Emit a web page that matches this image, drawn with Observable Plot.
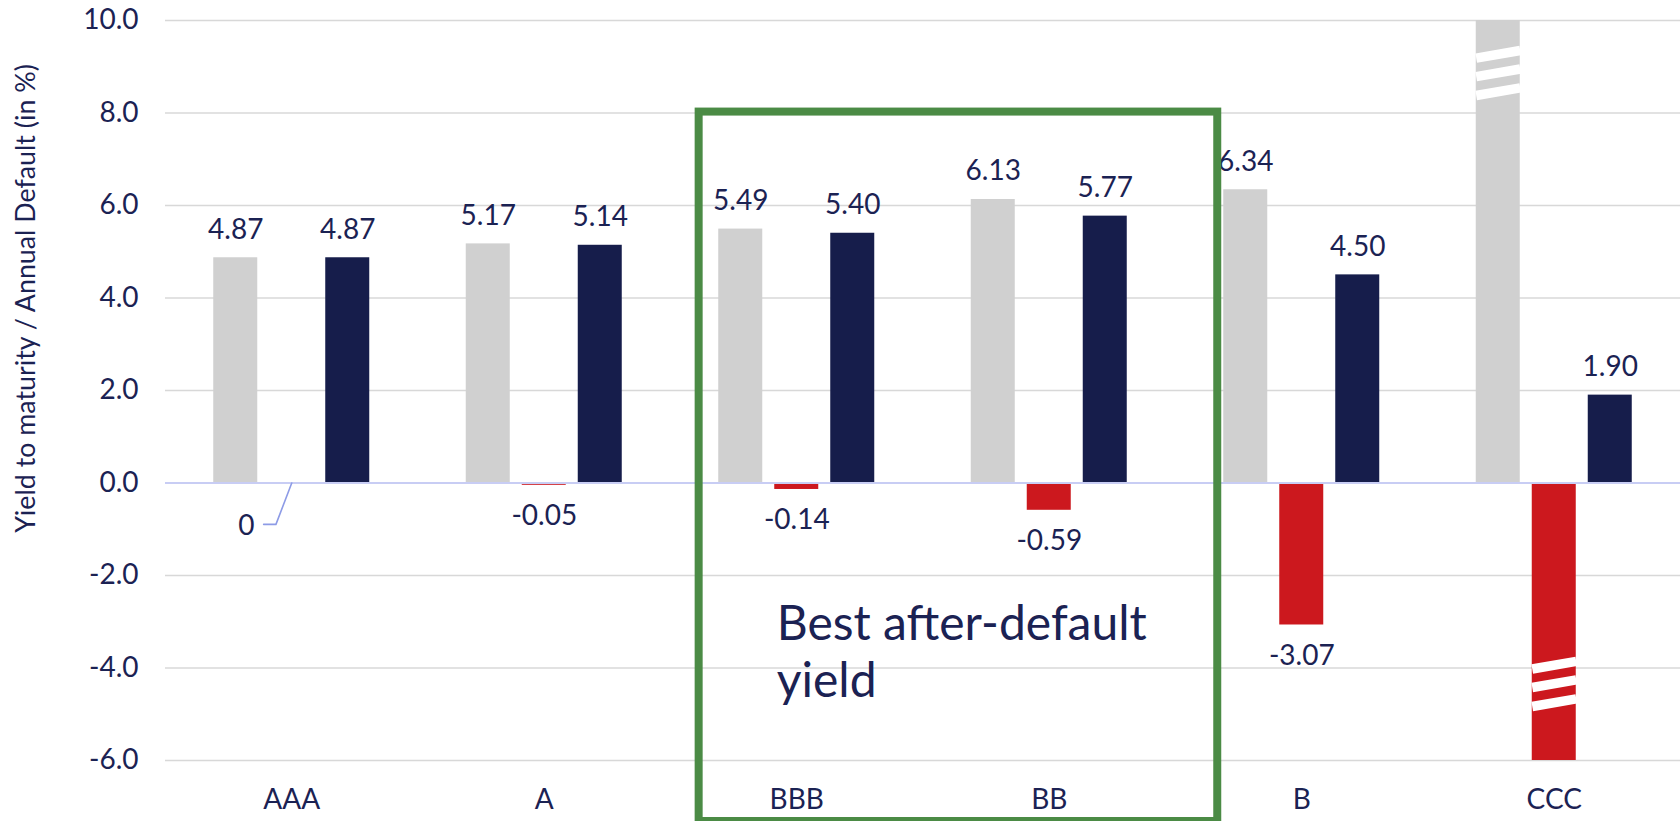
<!DOCTYPE html>
<html><head><meta charset="utf-8">
<script src="https://cdn.jsdelivr.net/npm/d3@7"></script>
<script src="https://cdn.jsdelivr.net/npm/@observablehq/plot@0.6"></script>
<style>
html,body{margin:0;padding:0;background:#fff;}
#chart svg{display:block;}
</style></head><body><div id="chart"></div>
<script>
// ---- data ----
const categories = ["AAA", "A", "BBB", "BB", "B", "CCC"];
const yieldToMaturity = [4.87, 5.17, 5.49, 6.13, 6.34, 10.0];   // CCC bar truncated at the axis top
const annualDefault = [0, -0.05, -0.14, -0.59, -3.07, -6.0];     // CCC bar truncated at the axis bottom
const afterDefaultYield = [4.87, 5.14, 5.40, 5.77, 4.50, 1.90];
const truncatedYtm = [false, false, false, false, false, true];
const truncatedDefault = [false, false, false, false, false, true];
const truncatedAdj = [false, false, false, false, false, false];
const yTicks = [-6, -4, -2, 0, 2, 4, 6, 8, 10];
const highlightCats = ["BBB", "BB"];
const highlightText = "Best after-default\nyield";
const yAxisLabel = "Yield to maturity / Annual Default (in %)";
const breakGray = [9.27, 8.87, 8.46];
const breakRed = [-3.94, -4.34, -4.75];

// ---- layout ----
const W = 1680, H = 821, ML = 165, MR = 0, MT = 20, MB = 61;
const unitPx = (W - ML - MR) / categories.length;
const px = p => p / unitPx;                 // pixels -> x data units
const yUnitPx = (H - MT - MB) / (yTicks[yTicks.length - 1] - yTicks[0]);
const pyv = p => p / yUnitPx;               // pixels -> y data units
const barW = px(44), step = px(56);
const textColor = "#1b2253";
const colors = {ytm: "#d0d0d0", def: "#cc181e", adj: "#161d4b"};

const series = [
  {key: "ytm", values: yieldToMaturity, trunc: truncatedYtm, k: -1},
  {key: "def", values: annualDefault, trunc: truncatedDefault, k: 0},
  {key: "adj", values: afterDefaultYield, trunc: truncatedAdj, k: 1}
];
const rows = s => categories.map((c, i) => ({
  cat: c, i, value: s.values[i], cx: i + 0.5 + s.k * step, trunc: s.trunc[i]
}));
const data = Object.fromEntries(series.map(s => [s.key, rows(s)]));

const posLabels = [...data.ytm, ...data.adj].filter(d => !d.trunc && d.value > 0);
const negLabels = data.def.filter(d => !d.trunc && d.value < 0);
const zeroLabels = data.def.filter(d => d.value === 0);

const fmt2 = v => v.toFixed(2);

// break marks on truncated bars
const slant = pyv(7.6) / 2;
const breaks = [
  ...breakGray.map(y => ({bar: data.ytm[5], y})),
  ...breakRed.map(y => ({bar: data.def[5], y}))
];

// leader for zero label
const leader = zeroLabels.flatMap(d => [
  {x: d.cx, y: 0},
  {x: d.cx - px(15.8), y: -pyv(41.4)},
  {x: d.cx - px(28.1), y: -pyv(41.4)}
]);

// highlight box
const iA = categories.indexOf(highlightCats[0]);
const iB = categories.indexOf(highlightCats[1]);
const box = {
  x1: iA + 0.5 - px(97.6),
  x2: iB + 0.5 + px(168.5),
  y1: yTicks[0] - pyv(61),
  y2: 8.02
};

const plot = Plot.plot({
  width: W, height: H,
  marginLeft: ML, marginRight: MR, marginTop: MT, marginBottom: MB,
  style: {fontFamily: "Lato, 'Open Sans', sans-serif", fontSize: "28px", color: textColor, background: "#fff"},
  x: {type: "linear", domain: [0, categories.length], axis: null},
  y: {domain: [yTicks[0], yTicks[yTicks.length - 1]], axis: null},
  marks: [
    Plot.ruleY(yTicks.filter(t => t !== 0), {stroke: "#d8d8d8", strokeWidth: 1.3}),
    Plot.axisY({ticks: yTicks, tickFormat: d => d.toFixed(1), tickSize: 0, tickPadding: 27, fontSize: 28, fill: textColor, label: null}),
    Plot.axisX({ticks: categories.map((c, i) => i + 0.5), tickFormat: d => categories[Math.floor(d)], tickSize: 0, tickPadding: 29, fontSize: 28, fill: textColor, label: null}),
    Plot.text([yAxisLabel], {frameAnchor: "left", dx: -139, dy: -92, rotate: -90, text: d => d, fontSize: 26.8, fill: textColor, textAnchor: "middle", lineAnchor: "middle"}),
    ...series.map(s => Plot.rect(data[s.key], {
      x1: d => d.cx - barW / 2, x2: d => d.cx + barW / 2, y1: 0, y2: "value", fill: colors[s.key], clip: true
    })),
    Plot.link(breaks, {
      x1: d => d.bar.cx - barW / 2, x2: d => d.bar.cx + barW / 2,
      y1: d => d.y - slant, y2: d => d.y + slant,
      stroke: "white", strokeWidth: 9.5, strokeLinecap: "butt"
    }),
    Plot.ruleY([0], {stroke: "#c8cdf4", strokeWidth: 1.8}),
    Plot.line(leader, {x: "x", y: "y", stroke: "#8d9be6", strokeWidth: 1.6}),
    Plot.text(zeroLabels, {x: d => d.cx - px(45.5), y: -pyv(43), text: () => "0", fontSize: 28, fill: textColor, lineAnchor: "middle"}),
    Plot.text(posLabels, {x: "cx", y: "value", text: d => fmt2(d.value), fontSize: 28, fill: textColor, lineAnchor: "bottom", dy: -19}),
    Plot.text(negLabels, {x: "cx", y: "value", text: d => fmt2(d.value), fontSize: 28, fill: textColor, lineAnchor: "top", dy: 20}),
    Plot.rect([box], {x1: "x1", x2: "x2", y1: "y1", y2: "y2", fill: "none", stroke: "#4b8b45", strokeWidth: 8}),
    Plot.text([highlightText], {x: box.x1 + px(77.6), y: -2.50, text: d => d, fontSize: 48, lineHeight: 1.2, fill: textColor, textAnchor: "start", lineAnchor: "top"})
  ]
});
document.getElementById("chart").appendChild(plot);
</script>
</body></html>
